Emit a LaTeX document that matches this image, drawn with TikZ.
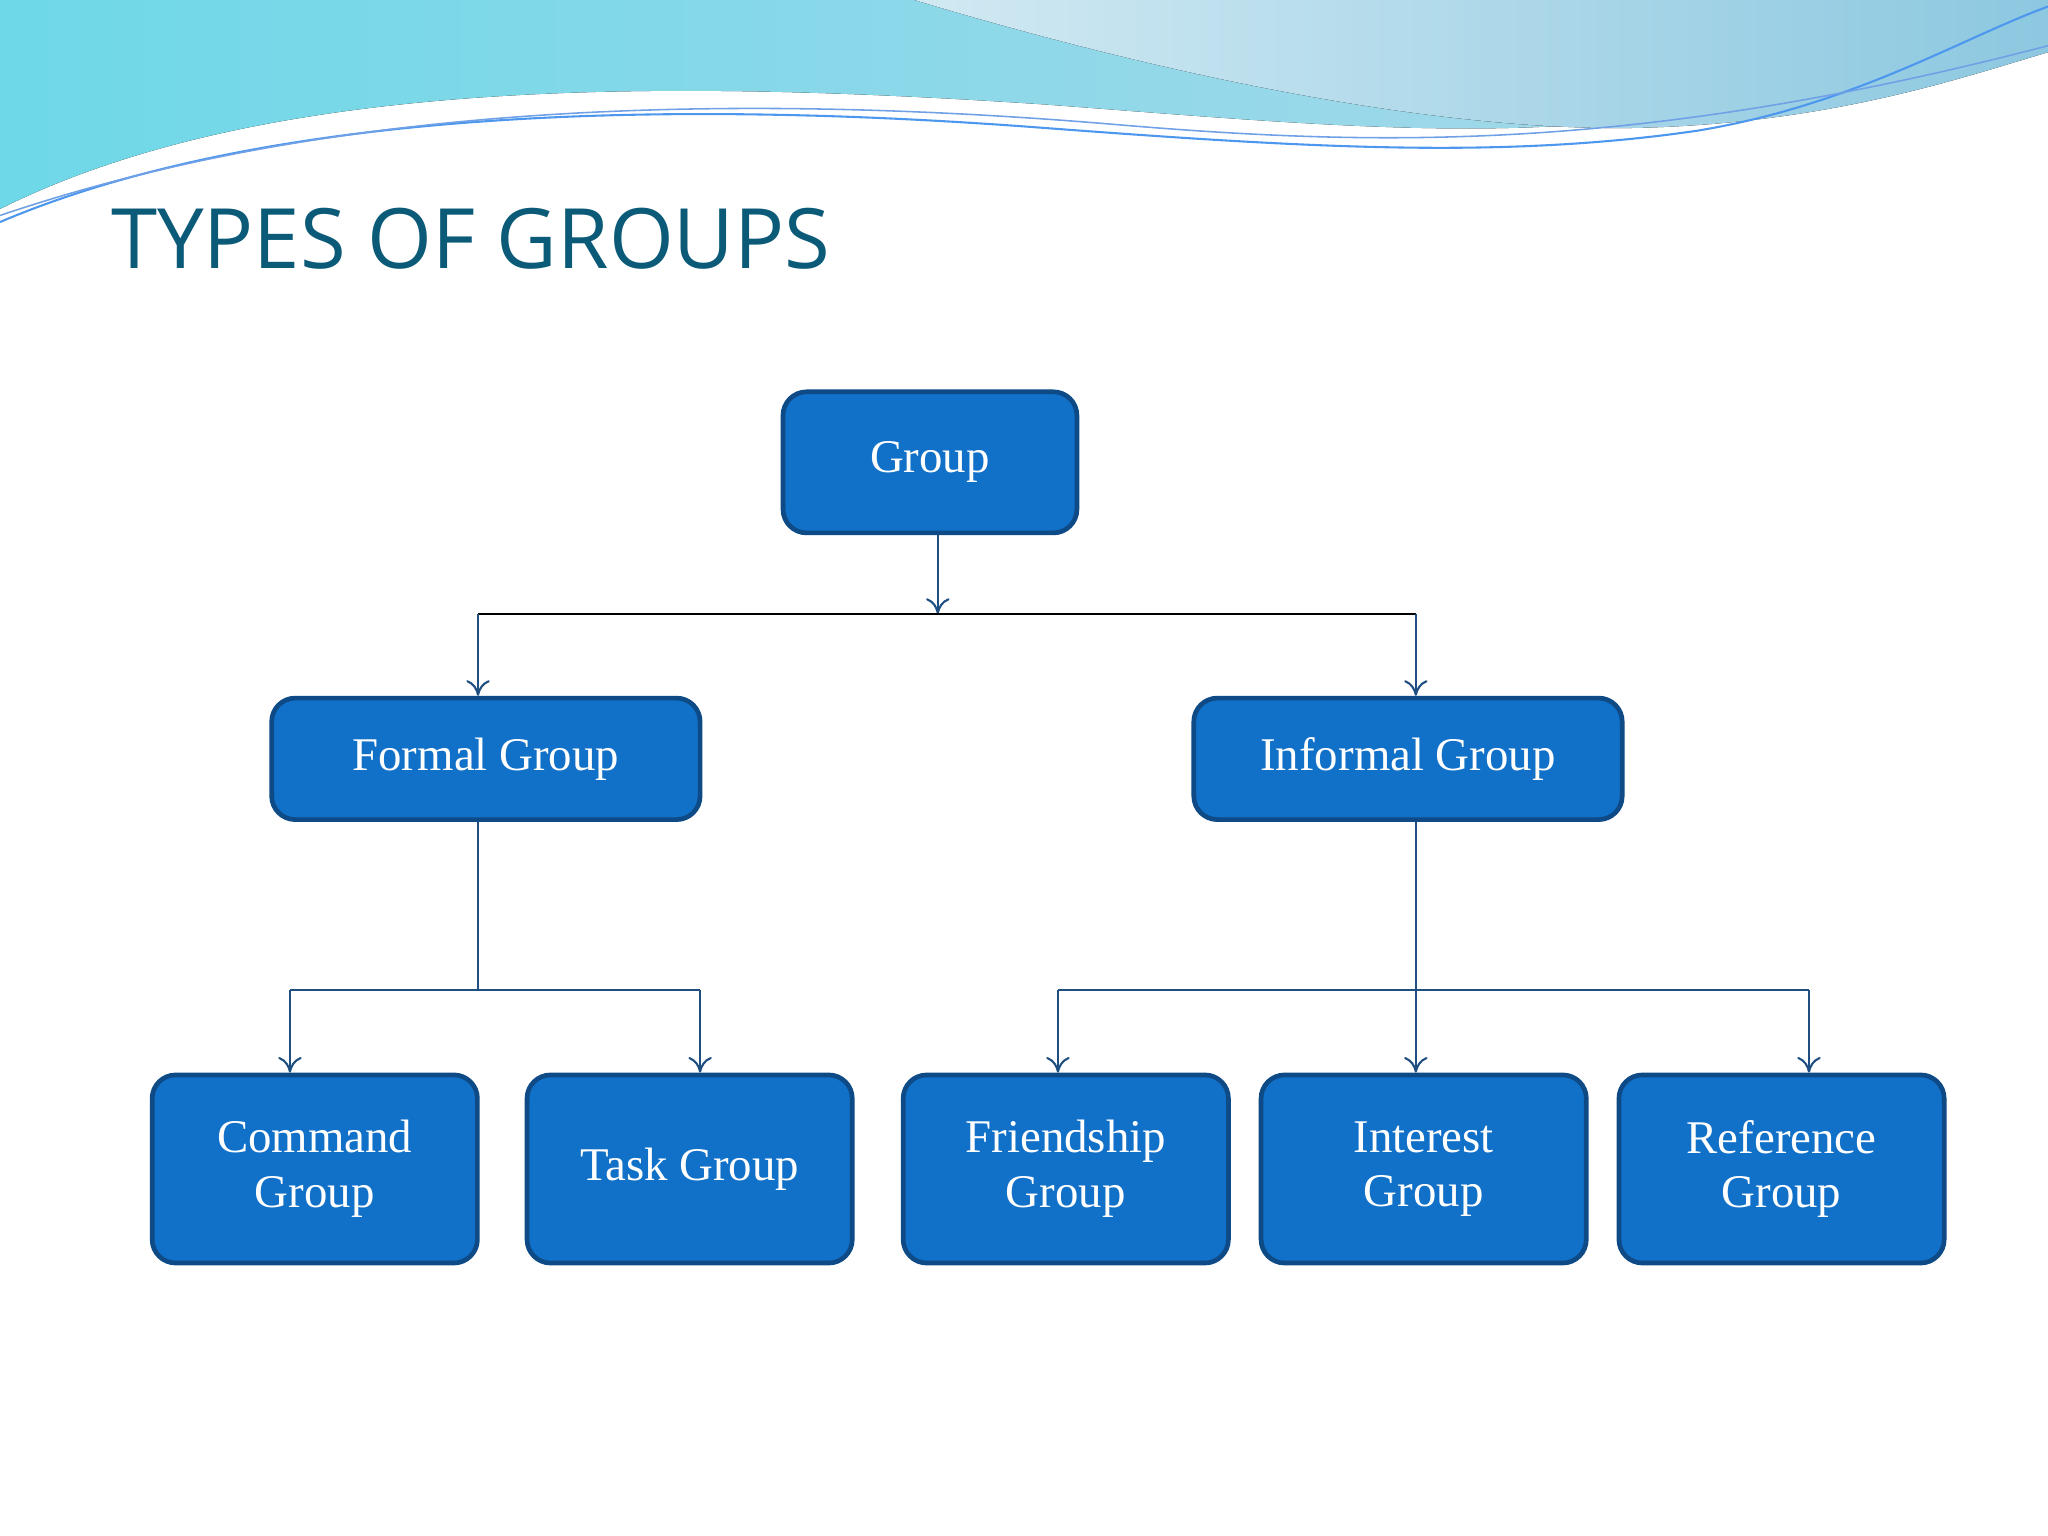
\documentclass[tikz,border=0pt]{standalone}
\usepackage{fontspec}
\setmainfont{Liberation Serif}
\newfontfamily\titlefont{Open Sans}
\usetikzlibrary{arrows.meta}
\definecolor{boxfill}{HTML}{1170C8}
\definecolor{boxline}{HTML}{0D4A86}
\definecolor{conn}{HTML}{1F4E80}
\definecolor{titlec}{HTML}{0B5A78}
\definecolor{wave1}{HTML}{8CC8E0}
\definecolor{wave2}{HTML}{6ED8E8}
\begin{document}
\begin{tikzpicture}[x=0.5bp,y=-0.5bp,
  box/.style={draw=boxline,line width=1.8pt,fill=boxfill,rounded corners=9bp,text=white,font=\fontsize{18}{21}\selectfont,align=center,inner sep=0pt},
  cn/.style={draw=conn,line width=0.8pt},
  ar/.style={cn,-{To[length=6pt,width=9pt]}}]
\useasboundingbox (0,0) rectangle (1568,1176);
\fill[white!96!blue!2] (0,0) rectangle (1568,1176);
% waves
\fill[left color=wave2,right color=wave1!70!white] (0,0) -- (0,160) .. controls (200,60) and (500,60) .. (800,80) .. controls (1000,95) and (1150,110) .. (1300,85) .. controls (1420,65) and (1500,40) .. (1568,20) -- (1568,0) -- cycle;
\fill[left color=white!60!wave1,right color=wave1] (700,0) .. controls (900,60) and (1100,100) .. (1250,98) .. controls (1400,95) and (1500,60) .. (1568,40) -- (1568,0) -- cycle;
\fill[white] (0,175) .. controls (200,90) and (500,80) .. (800,100) .. controls (1000,115) and (1150,125) .. (1300,105) .. controls (1420,85) and (1500,60) .. (1568,45) -- (1568,1176) -- (0,1176) -- cycle;
\draw[wave2!70!blue,line width=0.8pt] (0,170) .. controls (200,85) and (500,75) .. (800,98) .. controls (1000,113) and (1150,122) .. (1300,100) .. controls (1420,80) and (1500,30) .. (1568,5);
\draw[wave1!80!blue,line width=0.6pt] (0,165) .. controls (250,80) and (550,70) .. (850,95) .. controls (1050,112) and (1250,118) .. (1568,35);
\node[anchor=west,text=titlec,font=\titlefont\fontsize{32}{36}\selectfont] (title) at (78,183) {TYPES OF GROUPS};
% nodes
\node[box,minimum width=112.5bp,minimum height=54bp] (g) at (712,354) {Group};
\node[box,minimum width=164bp,minimum height=46.5bp] (f) at (372,581) {Formal Group};
\node[box,minimum width=164bp,minimum height=46.5bp] (i) at (1078,581) {Informal Group};
\foreach \n/\x/\t in {c/241/{Command\\Group},t/528/{Task Group},fr/816/{Friendship\\Group},in/1090/{Interest\\Group},r/1364/{Reference\\Group}}
  \node[box,minimum width=124.5bp,minimum height=72bp] (\n) at (\x,895) {\t};
% connectors
\coordinate (j0) at (718,470);
\coordinate (jl) at (366,470);
\coordinate (jr) at (1084,470);
\draw[ar] (g.south -| j0) -- (j0);
\draw[cn,black] (jl) -- (jr);
\draw[ar] (jl) -- (jl |- f.north);
\draw[ar] (jr) -- (jr |- i.north);
\coordinate (fl) at (366,758);
\coordinate (fa) at (222,758);
\coordinate (fb) at (536,758);
\draw[cn] (f.south -| fl) -- (fl);
\draw[cn] (fa) -- (fb);
\draw[ar] (fa) -- (fa |- c.north);
\draw[ar] (fb) -- (fb |- t.north);
\coordinate (ia) at (810,758);
\coordinate (ib) at (1385,758);
\coordinate (im) at (1084,758);
\draw[ar] (i.south -| im) -- (im |- in.north);
\draw[cn] (ia) -- (ib);
\draw[ar] (ia) -- (ia |- fr.north);
\draw[ar] (ib) -- (ib |- r.north);
\end{tikzpicture}
\end{document}
